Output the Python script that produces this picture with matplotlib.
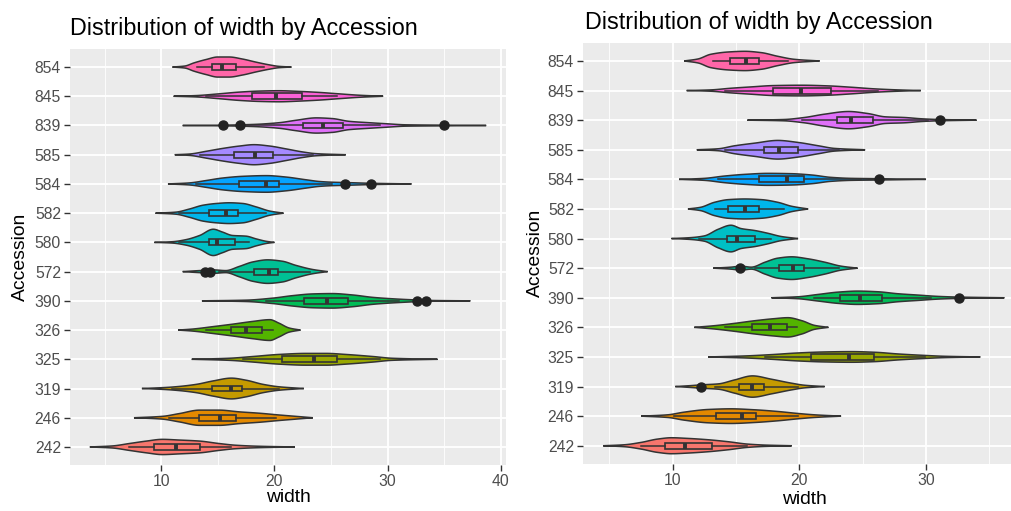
import numpy as np
import matplotlib
matplotlib.use("Agg")
import matplotlib.pyplot as plt

plt.rcParams['font.family'] = ['Liberation Sans', 'DejaVu Sans']

accessions = ["242", "246", "319", "325", "326", "390", "572", "580",
              "582", "584", "585", "839", "845", "854"]
colors = ["#F8766D", "#E38900", "#C49A00", "#99A800", "#53B400", "#00BC56",
          "#00C094", "#00BFC4", "#00B6EB", "#06A4FF", "#A58AFF", "#DF70F8",
          "#FB61D7", "#FF66A8"]

# ---------------- Left panel ----------------
left_dens_x = [
    [3.7, 5.7, 7.2, 8.7, 10.1, 11.6, 13.4, 15.1, 16.6, 18.7, 21.8],
    [7.6, 10.1, 11.6, 13.4, 15.1, 16.9, 18.7, 20.4, 21.9, 23.4],
    [8.3, 10.4, 11.6, 13.1, 14.6, 16.2, 17.5, 19.0, 20.4, 22.6],
    [12.7, 16.0, 18.1, 20.4, 22.8, 24.6, 26.3, 28.7, 30.4, 34.4],
    [11.5, 12.8, 14.6, 16.3, 18.1, 19.6, 20.4, 21.3, 22.3],
    [13.6, 17.5, 19.9, 21.6, 23.4, 25.1, 26.9, 28.7, 30.4, 32.2, 34.0, 37.3],
    [11.9, 13.4, 14.6, 15.7, 16.9, 18.1, 19.4, 20.7, 21.9, 23.4, 24.7],
    [9.4, 11.0, 12.2, 13.4, 14.6, 15.4, 16.3, 17.5, 18.4, 19.3, 20.0],
    [9.5, 11.3, 12.5, 13.7, 14.9, 16.0, 17.2, 18.4, 19.6, 20.8],
    [10.6, 12.5, 14.0, 15.4, 17.2, 19.3, 21.0, 22.8, 24.0, 25.1, 26.3, 28.4, 32.1],
    [11.2, 12.5, 14.0, 15.4, 16.9, 18.2, 19.6, 21.0, 22.5, 23.7, 26.3],
    [11.9, 15.4, 18.1, 20.4, 21.9, 23.7, 25.1, 26.6, 28.4, 29.9, 31.6, 35.1, 38.7],
    [11.1, 13.1, 15.1, 16.9, 18.7, 20.4, 22.2, 24.0, 25.7, 27.5, 29.6],
    [11.0, 12.1, 12.9, 14.0, 15.0, 16.0, 17.2, 18.4, 19.6, 20.4, 21.5],
]
left_dens = [
    [0, 3, 10, 17, 22, 20, 17, 10, 5, 2, 0],
    [0, 4, 12, 22, 22, 17, 13, 8, 4, 0],
    [0, 3, 6, 12, 22, 30, 24, 12, 5, 0],
    [0, 3, 8, 14, 17, 17, 14, 8, 3, 0],
    [0, 3, 10, 17, 25, 30, 20, 6, 0],
    [0, 2, 8, 15, 20, 21, 17, 10, 6, 3, 1, 0],
    [0, 3, 5, 3, 15, 28, 34, 30, 18, 6, 0],
    [0, 2, 8, 20, 38, 30, 20, 18, 10, 3, 0],
    [0, 3, 12, 23, 28, 30, 28, 18, 6, 0],
    [0, 3, 10, 17, 22, 24, 20, 12, 7, 5, 4, 2, 0],
    [0, 2, 10, 18, 25, 29, 25, 17, 8, 3, 0],
    [0, 1, 3, 8, 15, 22, 20, 12, 8, 5, 2, 1, 0],
    [0, 2, 7, 12, 15, 16, 14, 11, 7, 3, 0],
    [0, 3, 12, 22, 29, 29, 23, 14, 6, 2, 0],
]
left_q1 = [9.4, 13.3, 14.5, 20.7, 16.2, 22.6, 18.2, 14.2, 14.2, 16.9, 16.4, 22.5, 18.0, 14.5]
left_med = [11.3, 15.2, 16.2, 23.5, 17.5, 24.6, 19.5, 14.9, 15.7, 19.3, 18.3, 24.3, 20.1, 15.4]
left_q3 = [13.4, 16.6, 17.1, 25.5, 18.9, 26.5, 20.3, 16.5, 16.8, 20.4, 19.9, 26.1, 22.4, 16.6]
left_wlo = [7.2, 10.7, 11.0, 17.2, 14.0, 19.3, 15.1, 11.6, 11.6, 13.1, 13.4, 17.5, 14.0, 13.2]
left_whi = [16.2, 20.1, 20.4, 29.3, 19.9, 31.0, 23.1, 17.8, 19.3, 25.1, 23.4, 29.3, 25.5, 19.1]
left_out = [[], [], [], [], [], [32.6, 33.4], [13.9, 14.3], [], [], [26.2, 28.5],
            [], [15.5, 17.0, 35.0], [], []]

# ---------------- Right panel ----------------
right_dens_x = [
    [4.5, 6.2, 7.5, 8.8, 9.9, 11.2, 12.8, 14.4, 15.9, 17.3, 19.4],
    [7.5, 9.6, 10.9, 12.8, 14.6, 16.5, 18.3, 19.9, 21.2, 23.3],
    [10.2, 11.5, 12.2, 13.6, 14.9, 16.3, 17.8, 19.4, 20.4, 22.0],
    [12.8, 15.7, 17.8, 19.9, 22.0, 24.1, 26.0, 27.8, 29.7, 31.5, 34.3],
    [11.7, 13.3, 14.9, 16.5, 18.0, 19.1, 20.2, 21.2, 22.3],
    [17.8, 19.9, 21.5, 23.1, 24.6, 26.2, 27.8, 29.4, 31.0, 32.6, 36.2],
    [13.2, 14.6, 15.4, 16.2, 17.3, 18.3, 19.4, 20.7, 22.0, 23.3, 24.6],
    [9.9, 11.5, 12.5, 13.6, 14.6, 15.4, 16.5, 17.5, 18.6, 19.9],
    [11.2, 12.2, 13.3, 14.4, 15.7, 17.0, 18.3, 19.4, 20.7],
    [10.5, 12.5, 14.1, 15.7, 17.5, 19.4, 21.0, 22.5, 24.1, 26.2, 30.0],
    [11.9, 13.6, 14.9, 16.5, 18.3, 19.9, 21.5, 22.8, 25.2],
    [15.9, 18.8, 20.4, 22.0, 23.9, 25.4, 26.8, 28.3, 29.7, 31.0, 34.0],
    [11.1, 13.0, 14.6, 16.2, 18.0, 20.2, 22.3, 24.1, 26.0, 27.8, 29.6],
    [10.9, 12.0, 13.0, 14.4, 15.7, 17.0, 18.3, 19.6, 21.6],
]
right_dens = [
    [0, 3, 10, 20, 24, 22, 18, 12, 5, 2, 0],
    [0, 4, 12, 20, 22, 19, 14, 8, 4, 0],
    [0, 3, 5, 8, 20, 32, 22, 10, 4, 0],
    [0, 3, 7, 12, 15, 16, 14, 9, 5, 2, 0],
    [0, 5, 12, 20, 26, 29, 20, 6, 0],
    [0, 3, 10, 17, 20, 18, 12, 8, 4, 2, 0],
    [0, 3, 6, 3, 18, 30, 34, 28, 18, 6, 0],
    [0, 3, 8, 28, 40, 30, 24, 16, 6, 0],
    [0, 5, 20, 28, 30, 28, 20, 8, 0],
    [0, 3, 10, 15, 18, 17, 13, 6, 3, 2, 0],
    [0, 3, 12, 20, 28, 22, 12, 4, 0],
    [0, 2, 8, 18, 26, 20, 10, 8, 4, 2, 0],
    [0, 2, 7, 11, 15, 16, 14, 10, 5, 2, 0],
    [0, 6, 20, 27, 29, 25, 14, 5, 0],
]
right_q1 = [9.4, 13.4, 15.2, 20.9, 16.3, 23.2, 18.4, 14.3, 14.4, 16.8, 17.2, 23.0, 17.9, 14.5]
right_med = [11.0, 15.5, 16.3, 23.9, 17.7, 24.8, 19.5, 15.1, 15.7, 19.0, 18.4, 24.1, 20.1, 15.8]
right_q3 = [13.1, 16.6, 17.2, 25.9, 19.0, 26.5, 20.4, 16.5, 16.8, 20.4, 19.9, 25.8, 22.5, 16.8]
right_wlo = [7.5, 10.1, 13.3, 17.3, 14.1, 21.2, 16.5, 12.1, 13.3, 13.6, 14.1, 20.2, 14.1, 13.2]
right_whi = [15.9, 19.9, 19.9, 29.9, 19.8, 30.4, 23.1, 17.8, 18.8, 24.9, 23.1, 30.2, 26.2, 19.1]
right_out = [[], [], [12.2], [], [], [32.6], [15.3], [], [], [26.3], [], [31.1], [], []]

title_text = "Distribution of width by Accession"
x_label = "width"
y_label = "Accession"

EDGE = "#333333"


def pchip(x, y, xn):
    x = np.asarray(x, float)
    y = np.asarray(y, float)
    h = np.diff(x)
    d = np.diff(y) / h
    n = len(x)
    m = np.zeros(n)
    for k in range(1, n - 1):
        if d[k - 1] * d[k] > 0:
            w1 = 2 * h[k] + h[k - 1]
            w2 = h[k] + 2 * h[k - 1]
            m[k] = (w1 + w2) / (w1 / d[k - 1] + w2 / d[k])
    m[0] = d[0]
    m[-1] = d[-1]
    idx = np.clip(np.searchsorted(x, xn) - 1, 0, n - 2)
    t = (xn - x[idx]) / h[idx]
    h00 = 2 * t**3 - 3 * t**2 + 1
    h10 = t**3 - 2 * t**2 + t
    h01 = -2 * t**3 + 3 * t**2
    h11 = t**3 - t**2
    out = h00 * y[idx] + h10 * h[idx] * m[idx] + h01 * y[idx + 1] + h11 * h[idx] * m[idx + 1]
    return np.clip(out, 0, None)


def draw_panel(ax, dens_x, dens, q1, med, q3, wlo, whi, outl, xlim, major, minor):
    ax.set_facecolor("#EBEBEB")
    dmax = max(max(d) for d in dens)
    for i in range(len(accessions)):
        xs = np.linspace(dens_x[i][0], dens_x[i][-1], 300)
        hw = pchip(dens_x[i], dens[i], xs) / dmax * 0.45
        px = np.concatenate([xs, xs[::-1]])
        py = np.concatenate([i + hw, (i - hw)[::-1]])
        ax.fill(px, py, facecolor=colors[i], edgecolor=EDGE, linewidth=1.1, zorder=2)
        stats = [dict(med=med[i], q1=q1[i], q3=q3[i], whislo=wlo[i], whishi=whi[i],
                      fliers=outl[i])]
        ax.bxp(stats, positions=[i], widths=0.2, orientation='horizontal',
               patch_artist=True, showcaps=False, manage_ticks=False,
               boxprops=dict(facecolor=colors[i], edgecolor=EDGE, linewidth=1.2),
               medianprops=dict(color=EDGE, linewidth=2.8, solid_capstyle='butt'),
               whiskerprops=dict(color=EDGE, linewidth=1.1),
               flierprops=dict(marker='o', markerfacecolor='#222222',
                               markeredgecolor='#222222', markersize=6.5),
               zorder=3)
    ax.set_xlim(*xlim)
    ax.set_ylim(-0.6, len(accessions) - 0.4)
    ax.set_xticks(major)
    ax.set_xticks(minor, minor=True)
    ax.set_yticks(range(len(accessions)))
    ax.set_yticklabels(accessions)
    ax.grid(which='major', color='white', linewidth=1.3)
    ax.grid(which='minor', axis='x', color='white', linewidth=0.6)
    ax.set_axisbelow(True)
    for s in ax.spines.values():
        s.set_visible(False)
    ax.tick_params(which='major', length=4, width=1, color=EDGE,
                   labelsize=11.3, labelcolor='#4D4D4D', pad=2.5)
    ax.tick_params(which='minor', length=0)


fig = plt.figure(figsize=(10.12, 5.11), dpi=100)
W, H = 1012.0, 511.0

axL = fig.add_axes([70 / W, 1 - 464.5 / H, 436 / W, 415 / H])
draw_panel(axL, left_dens_x, left_dens, left_q1, left_med, left_q3, left_wlo,
           left_whi, left_out, (1.95, 40.45), [10, 20, 30, 40], [5, 15, 25, 35])

axR = fig.add_axes([583 / W, 1 - 463.5 / H, 441.6 / W, 420.3 / H])
draw_panel(axR, right_dens_x, right_dens, right_q1, right_med, right_q3, right_wlo,
           right_whi, right_out, (2.91, 37.8), [10, 20, 30], [5, 15, 25, 35])

# titles and axis titles
fig.text(70 / W, 1 - 34.5 / H, title_text, fontsize=16.8, ha='left', va='baseline', color='black')
fig.text(585 / W, 1 - 29.5 / H, title_text, fontsize=16.8, ha='left', va='baseline', color='black')
fig.text(288 / W, 1 - 497 / H, x_label, fontsize=13.9, ha='center', va='center')
fig.text(804 / W, 1 - 500 / H, x_label, fontsize=13.9, ha='center', va='center')
fig.text(20 / W, 1 - 257 / H, y_label, fontsize=13.9, ha='center', va='center', rotation=90)
fig.text(535 / W, 1 - 253 / H, y_label, fontsize=13.9, ha='center', va='center', rotation=90)

fig.savefig("out.png", dpi=100, facecolor='white')
